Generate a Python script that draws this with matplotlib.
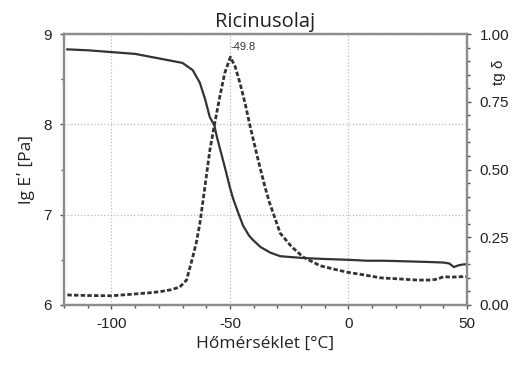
import matplotlib.pyplot as plt
from matplotlib.ticker import MultipleLocator

plt.rcParams['axes.unicode_minus'] = False

# lg E' (left axis)
temp_e = [-118.6, -110, -100, -90, -84, -76, -70, -65.7, -62.7, -60.5, -58.5,
          -56.6, -55.5, -52.2, -50, -48.7, -46.5, -44.5, -42, -40.3, -37, -33,
          -28.8, -24, -19.1, -10.5, 0, 8, 14.8, 22, 29, 35, 40, 42.5, 44.5,
          46.5, 48.7, 50]
lg_e = [8.83, 8.82, 8.80, 8.78, 8.75, 8.71, 8.68, 8.60, 8.46, 8.28, 8.08,
        7.99, 7.86, 7.53, 7.30, 7.18, 7.02, 6.88, 6.77, 6.72, 6.64, 6.58,
        6.54, 6.53, 6.52, 6.51, 6.50, 6.49, 6.49, 6.485, 6.48, 6.475, 6.47, 6.46, 6.42,
        6.44, 6.45, 6.45]

# tg delta (right axis)
temp_tan = [-118.6, -110, -100, -91, -84, -79.7, -75, -71.2, -68.3, -65.7, -64.2,
            -62.7, -60.5, -58.5, -56.4, -54.3, -52.2, -49.8, -47.8, -45.8, -43.5,
            -41.5, -38.1, -35.2, -33.4, -32.2, -28.8, -24, -19.1, -12, -6, 0, 6,
            13.6, 20, 29, 35, 37.6, 40, 44, 48.7, 50]
tan_d = [0.037, 0.035, 0.034, 0.040, 0.045, 0.049, 0.056, 0.066, 0.092, 0.177, 0.23,
         0.30, 0.44, 0.57, 0.672, 0.768, 0.856, 0.915, 0.88, 0.82, 0.74,
         0.66, 0.535, 0.435, 0.38, 0.35, 0.265, 0.215, 0.177, 0.145, 0.132, 0.12, 0.112,
         0.10, 0.097, 0.092, 0.092, 0.096, 0.104, 0.103, 0.105, 0.104]

peak_t, peak_v = -49.8, 0.915

line_col = '#333333'
spine_col = '#8c8c8c'
tick_font = 'Liberation Sans'
label_font = ['Open Sans', 'DejaVu Sans']

fig = plt.figure(figsize=(5.13, 3.65), dpi=100)
ax = fig.add_axes([0.1248, 0.1644, 0.7855, 0.7424])
ax2 = ax.twinx()

ax.plot(temp_e, lg_e, '-', color=line_col, linewidth=1.6)
ax2.plot(temp_tan, tan_d, color=line_col, linewidth=2.0, linestyle=(0, (1.6, 0.8)))

ax.set_xlim(-120, 50)
ax.set_ylim(6, 9)
ax2.set_ylim(0, 1)

ax.xaxis.set_major_locator(MultipleLocator(50))
ax.xaxis.set_minor_locator(MultipleLocator(10))
ax.yaxis.set_major_locator(MultipleLocator(1))
ax.yaxis.set_minor_locator(MultipleLocator(0.5))
ax2.yaxis.set_major_locator(MultipleLocator(0.25))
ax2.yaxis.set_minor_locator(MultipleLocator(0.05))
ax2.yaxis.set_major_formatter(plt.FormatStrFormatter('%.2f'))

ax.grid(True, which='major', color='#bbbbbb', linestyle=':', linewidth=0.9)

for a in (ax, ax2):
    for s in a.spines.values():
        s.set_color(spine_col)
        s.set_linewidth(1.6)
    a.tick_params(which='both', direction='out', color='#555555', width=1.0)
    a.tick_params(which='major', length=3, labelsize=11, labelcolor='#222222', pad=6)
    a.tick_params(which='minor', length=2)
    for lbl in a.get_xticklabels() + a.get_yticklabels():
        lbl.set_family(tick_font)

ax.set_title('Ricinusolaj', fontsize=14.5, family=label_font, pad=5, color='#222222')
ax.set_xlabel('Hőmérséklet [°C]', fontsize=12.5, family=label_font, labelpad=3,
              color='#222222')
ax.set_ylabel('lg Eʹ [Pa]', fontsize=12.5, family=label_font, labelpad=6,
              color='#222222')
ax2.text(1.08, 0.86, 'tg δ', transform=ax.transAxes, rotation=90,
         fontsize=11, family=tick_font, ha='center', va='center', color='#222222')

ax2.text(peak_t, peak_v + 0.02, f'{peak_t}', fontsize=8, family=tick_font,
         color='#333333', ha='left', va='bottom')

fig.savefig('out.png', dpi=100)
